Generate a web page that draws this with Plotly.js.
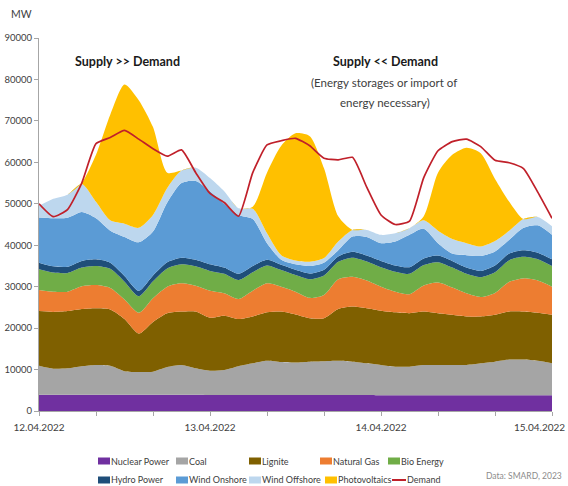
<!DOCTYPE html>
<html><head><meta charset="utf-8">
<script src="https://cdn.plot.ly/plotly-3.0.1.min.js"></script>
<style>html,body{margin:0;padding:0;background:#fff}#chart{width:568px;height:486px}</style>
</head><body><div id="chart"></div>
<script>
// 2-hourly readings, 12.04.2022 00:00 to 15.04.2022 00:00 (MW)
const hoursFromStart = [0,2,4,6,8,10,12,14,16,18,20,22,24,26,28,30,32,34,36,38,40,42,44,46,48,50,52,54,56,58,60,62,64,66,68,70,72];
const nuclear = [3900,3900,3900,3900,3900,3900,3900,3900,3900,3900,3900,3900,3850,3850,3850,3850,3850,3850,3850,3850,3850,3850,3850,3850,3800,3800,3800,3800,3800,3800,3800,3800,3800,3800,3800,3800,3800];
const coal = [7000,6300,6400,6900,7200,7000,5700,5500,5600,6700,7200,6400,5850,6050,6950,7650,8250,7950,7850,8050,8150,8250,8050,7650,7300,6900,6900,7300,7300,7300,7300,7700,8100,8600,8600,8300,7700];
const lignite = [13200,13700,13800,13800,13700,13600,12600,9300,12000,13000,12900,13700,12800,13100,11400,11300,11700,12200,11600,10500,10400,12500,13300,13300,13100,13100,12900,12900,12500,12100,11700,11300,11300,11600,11600,11600,11700];
const naturalGas = [5100,4900,4700,5500,5600,5200,4700,5000,5700,6400,6800,6200,6500,5400,4800,6200,7000,6000,5500,4900,5600,7200,7200,6700,5800,5000,4600,6300,7400,6600,5600,4700,5300,7200,8000,7800,6800];
const bioEnergy = [5000,4600,4500,4500,4600,4600,4300,4000,4100,4400,4600,4700,4800,4700,4600,4500,4300,4000,4000,4500,4700,4200,4600,4600,4700,4800,4900,4900,4900,4800,4700,4800,5000,5200,5200,5100,5000];
const hydroPower = [1600,1500,1500,1600,1600,1500,1400,1300,1400,1500,1600,1600,1600,1500,1500,1500,1400,1300,1300,1400,1400,1300,1400,1400,1500,1500,1600,1600,1600,1600,1500,1500,1600,1600,1600,1600,1600];
const windOnshore = [10900,11600,11800,11800,9900,7700,9400,11700,10600,14400,18000,19000,17600,15400,14200,11300,4000,1200,1300,1800,1700,1500,3700,4500,4300,5800,7800,7200,3000,1800,3000,3600,3400,3300,5400,6600,5900];
const windOffshore = [2800,4700,5600,6800,4000,2500,3200,3500,4000,3500,3000,3200,3200,3000,1600,2500,2400,1100,900,1000,1100,2100,1600,1700,2000,2000,1600,2000,3000,3500,2900,2300,2500,2200,2100,2000,2100];
const photovoltaics = [0,0,0,200,11300,25500,33600,30800,21200,3700,0,0,0,0,0,500,14600,26400,30700,30300,21700,6100,0,0,0,0,0,1000,14000,20300,23000,22500,15000,7000,0,0,0];
const demand = [50000,46900,48600,55000,64500,66000,67700,65600,63300,61500,63000,57500,52500,50300,47000,57500,64200,65200,65800,64000,61000,60600,61200,54000,47300,45000,45800,56300,62800,65000,65600,63800,60500,59900,58500,52800,46500];

const seriesNames = ['Nuclear Power','Coal','Lignite','Natural Gas','Bio Energy','Hydro Power','Wind Onshore','Wind Offshore','Photovoltaics'];
const seriesData = [nuclear, coal, lignite, naturalGas, bioEnergy, hydroPower, windOnshore, windOffshore, photovoltaics];
const seriesColors = ['#7030A0','#A5A5A5','#7F6000','#ED7D31','#70AD47','#1F4E79','#5B9BD5','#BDD7EE','#FFC000'];
const demandName = 'Demand';
const demandColor = '#C0202A';

const tickHours = [0,8,16,24,32,40,48,56,64,72];
const tickLabels = ['12.04.2022','','','13.04.2022','','','14.04.2022','','',''];
const lastDateLabel = '15.04.2022';

// legend layout (pixel positions in the 568x486 page)
const legendOrder = ['Nuclear Power','Coal','Lignite','Natural Gas','Bio Energy','Hydro Power','Wind Onshore','Wind Offshore','Photovoltaics','Demand'];
const legendSwatchLeft = [98,176,249,320,388,98,176,249,325,392];
const legendRowCenter = [461,461,461,461,461,480,480,480,480,480];

function stamp(h){
  const day = 12 + Math.floor(h/24);
  const hh = h % 24;
  return '2022-04-' + day + ' ' + (hh<10?'0':'') + hh + ':00';
}
const times = hoursFromStart.map(stamp);

// plot area in pixels
const PL = 39, PR = 552, PT = 38, PB = 411;
const px2paperX = p => (p - PL) / (PR - PL);
const px2paperY = p => (PB - p) / (PB - PT);

const FONT = 'Lato, "Liberation Sans", Arial, sans-serif';
const TXT = '#404040';

const traces = seriesData.map((arr, i) => ({
  type:'scatter', mode:'lines', x: times, y: arr, name: seriesNames[i],
  stackgroup:'one', fillcolor: seriesColors[i],
  line:{width:0, color: seriesColors[i], shape:'spline', smoothing:0.7},
  showlegend:false, hoverinfo:'skip'
}));
traces.push({
  type:'scatter', mode:'lines', x: times, y: demand, name: demandName,
  line:{color: demandColor, width:1.7, shape:'spline', smoothing:0.5},
  showlegend:false, hoverinfo:'skip'
});

const legendColors = seriesColors.concat([demandColor]);
const shapes = [];
const annotations = [];
legendOrder.forEach((label, i) => {
  const x0 = legendSwatchLeft[i], yc = legendRowCenter[i];
  if (label === demandName) {
    shapes.push({type:'line', xref:'paper', yref:'paper',
      x0: px2paperX(x0), x1: px2paperX(x0 + 14), y0: px2paperY(yc), y1: px2paperY(yc),
      line:{color: legendColors[i], width:2}});
  } else {
    shapes.push({type:'rect', xref:'paper', yref:'paper',
      x0: px2paperX(x0), x1: px2paperX(x0 + 12), y0: px2paperY(yc - 3.5), y1: px2paperY(yc + 3.5),
      line:{width:0}, fillcolor: legendColors[i]});
  }
  annotations.push({text: label, xref:'paper', yref:'paper',
    x: px2paperX(x0 + (label === demandName ? 13 : 11)), y: px2paperY(yc), xanchor:'left', yanchor:'middle',
    showarrow:false, font:{family: FONT, size:9, color: TXT}});
});

annotations.push(
  {text: lastDateLabel, xref:'paper', yref:'paper', x: px2paperX(567), y: px2paperY(427), xanchor:'right', yanchor:'middle', showarrow:false,
   font:{family: FONT, size:10, color: TXT}},
  {text:'MW', xref:'paper', yref:'paper', x: px2paperX(9), y: px2paperY(14), xanchor:'left', yanchor:'middle', showarrow:false,
   font:{family: FONT, size:10.5, color: TXT}},
  {text:'<b>Supply >> Demand</b>', xref:'paper', yref:'paper', x: px2paperX(127), y: px2paperY(61), xanchor:'center', yanchor:'middle', showarrow:false,
   font:{family: FONT, size:12.5, color:'#1a1a1a'}},
  {text:'<b>Supply << Demand</b>', xref:'paper', yref:'paper', x: px2paperX(385), y: px2paperY(61), xanchor:'center', yanchor:'middle', showarrow:false,
   font:{family: FONT, size:12.5, color:'#1a1a1a'}},
  {text:'(Energy storages or import of', xref:'paper', yref:'paper', x: px2paperX(384), y: px2paperY(83), xanchor:'center', yanchor:'middle', showarrow:false,
   font:{family: FONT, size:11.5, color: TXT}},
  {text:'energy necessary)', xref:'paper', yref:'paper', x: px2paperX(385), y: px2paperY(102), xanchor:'center', yanchor:'middle', showarrow:false,
   font:{family: FONT, size:11.5, color: TXT}},
  {text:'Data: SMARD, 2023', xref:'paper', yref:'paper', x: px2paperX(524), y: px2paperY(476), xanchor:'center', yanchor:'middle', showarrow:false,
   font:{family: FONT, size:8.5, color:'#8c8c8c'}}
);

const layout = {
  width:568, height:486,
  margin:{l:PL, r:568-PR, t:PT, b:486-PB},
  paper_bgcolor:'#fff', plot_bgcolor:'#fff',
  font:{family: FONT, size:10, color: TXT},
  showlegend:false,
  xaxis:{
    type:'date', range:[stamp(0), stamp(72)],
    tickvals: tickHours.map(stamp), ticktext: tickLabels,
    ticks:'outside', ticklen:4, tickcolor:'#A6A6A6',
    showline:true, linecolor:'#A6A6A6', linewidth:1,
    showgrid:false, zeroline:false, tickangle:0,
    ticklabelstandoff:3,
    tickfont:{family: FONT, size:10, color: TXT}
  },
  yaxis:{
    range:[0,90000], dtick:10000, tickformat:'d',
    ticks:'outside', ticklen:4, tickcolor:'#A6A6A6',
    showline:true, linecolor:'#A6A6A6', linewidth:1,
    showgrid:false, zeroline:false,
    tickfont:{family: FONT, size:9.5, color: TXT}
  },
  shapes: shapes,
  annotations: annotations
};

Plotly.newPlot('chart', traces, layout, {displayModeBar:false, staticPlot:true});
</script>
</body></html>
